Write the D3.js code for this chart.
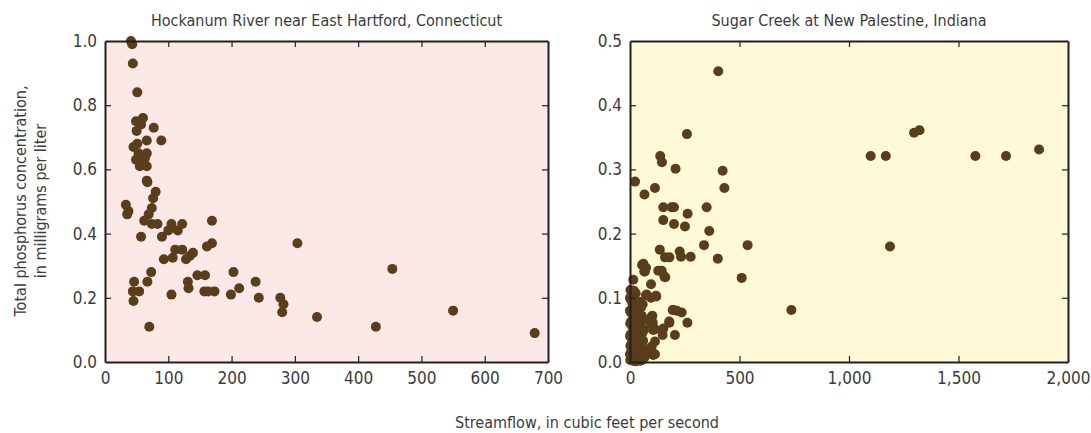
<!DOCTYPE html>
<html>
<head>
<meta charset="utf-8">
<script src="https://d3js.org/d3.v7.min.js"></script>
<style>
  body { margin: 0; background: #fff; }
  text { font-family: "Liberation Sans Narrow", "Arial Narrow", "DejaVu Sans Condensed", sans-serif; fill: #3b3b3b; }
</style>
</head>
<body>
<script>

// Hockanum River: streamflow (cfs) and total phosphorus (mg/L)
hockFlow = [41,43,44,51,60,49,57,77,50,66,89,51,45,66,53,49,63,55,66,61,66,67,80,76,
  33,74,37,35,69,62,169,74,83,105,122,100,115,57,90,169,161,111,122,139,134,128,93,107,
  73,46,67,44,54,45,105,70,131,132,146,158,157,163,173,203,199,212,
  238,243,277,282,280,304,335,428,454,550,679];
hockP = [1.0,0.99,0.93,0.84,0.76,0.75,0.74,0.73,0.72,0.69,0.69,0.68,0.67,0.65,0.65,0.63,0.635,0.61,0.61,0.62,0.565,0.56,0.53,0.51,
  0.49,0.48,0.47,0.46,0.46,0.44,0.44,0.43,0.43,0.43,0.43,0.41,0.41,0.39,0.39,0.37,0.36,0.35,0.35,0.34,0.33,0.32,0.32,0.325,
  0.28,0.25,0.25,0.22,0.22,0.19,0.21,0.11,0.25,0.23,0.27,0.27,0.22,0.22,0.22,0.28,0.21,0.23,
  0.25,0.2,0.2,0.18,0.155,0.37,0.14,0.11,0.29,0.16,0.09];

// Sugar Creek: streamflow (cfs) and total phosphorus (mg/L)
sugarFlow = [403,260,138,146,208,423,1099,1168,1297,1322,1577,1717,1868,
  431,350,362,338,537,401,510,737,1187,
  23,114,66,152,190,201,263,152,201,251,136,227,160,180,233,277,
  55,73,65,129,145,161,15,96,2,26,73,120,96,195,213,236,102,104,180,262,114,152,149,205,114,99,114,106,
  61,68,157,119,76,18,94,99,106,179,198,
  0,3,8,12,20,28,35,42,50,58,
  0,4,10,16,22,30,38,46,54,62,
  1,5,11,17,24,32,40,48,56,64,
  0,3,9,14,21,27,33,44,52,60,
  2,6,12,18,25,31,37,45,53,70,
  0,5,10,15,23,29,36,43,51,80,
  1,7,13,19,26,34,41,47,57,66];
sugarP = [0.453,0.355,0.321,0.311,0.301,0.298,0.321,0.321,0.357,0.361,0.321,0.321,0.331,
  0.271,0.241,0.204,0.182,0.182,0.161,0.131,0.081,0.18,
  0.281,0.271,0.261,0.241,0.241,0.241,0.231,0.221,0.215,0.211,0.175,0.172,0.163,0.163,0.164,0.164,
  0.151,0.147,0.141,0.142,0.142,0.132,0.128,0.121,0.112,0.107,0.104,0.102,0.1,0.081,0.08,0.077,0.072,0.061,0.061,0.061,0.051,0.052,0.042,0.042,0.032,0.024,0.012,0.011,
  0.153,0.141,0.133,0.103,0.105,0.111,0.06,0.07,0.05,0.063,0.081,
  0.1,0.098,0.095,0.09,0.097,0.092,0.088,0.094,0.085,0.09,
  0.08,0.077,0.083,0.074,0.079,0.071,0.076,0.068,0.072,0.066,
  0.06,0.063,0.055,0.058,0.052,0.061,0.049,0.057,0.045,0.05,
  0.04,0.043,0.037,0.045,0.034,0.041,0.038,0.03,0.036,0.033,
  0.025,0.028,0.022,0.03,0.02,0.026,0.018,0.024,0.016,0.02,
  0.012,0.015,0.008,0.013,0.01,0.006,0.014,0.009,0.011,0.017,
  0.003,0.005,0.002,0.004,0.001,0.003,0.006,0.002,0.004,0.007];

W = 1091
H = 433
plotTop = 41
plotBottom = 362

svg = d3.select("body").append("svg")
  .attr("width", W)
  .attr("height", H)

panels = [
  {title: "Hockanum River near East Hartford, Connecticut", x0: 105, x1: 548,
   xmax: 700, xticks: d3.range(0, 701, 100), ymax: 1.0, yticks: [0, 0.2, 0.4, 0.6, 0.8, 1.0],
   bg: "#fde8e8", flow: hockFlow, p: hockP},
  {title: "Sugar Creek at New Palestine, Indiana", x0: 630, x1: 1068,
   xmax: 2000, xticks: d3.range(0, 2001, 500), ymax: 0.5, yticks: [0, 0.1, 0.2, 0.3, 0.4, 0.5],
   bg: "#fef9d7", flow: sugarFlow, p: sugarP}
]

panels.forEach(function(d){
  var x = d3.scaleLinear().domain([0, d.xmax]).range([d.x0, d.x1])
  var y = d3.scaleLinear().domain([0, d.ymax]).range([plotBottom, plotTop])

  var g = svg.append("g")

  g.append("rect")
    .attr("x", d.x0).attr("y", plotTop)
    .attr("width", d.x1 - d.x0).attr("height", plotBottom - plotTop)
    .attr("fill", d.bg)

  // dots
  g.append("g").selectAll("circle")
    .data(d.flow.map((f, i) => [f, d.p[i]]))
    .enter()
    .append("circle")
    .attr("cx", v => x(v[0]))
    .attr("cy", v => y(v[1]))
    .attr("r", 5)
    .attr("fill", "#5a3d1b")

  var xb = g.append("g").attr("transform", "translate(0," + plotBottom + ")")
    .call(d3.axisBottom(x).tickValues(d.xticks).tickSize(-6).tickSizeOuter(0).tickPadding(10)
      .tickFormat(d3.format(",")))
  var xt = g.append("g").attr("transform", "translate(0," + plotTop + ")")
    .call(d3.axisTop(x).tickValues(d.xticks).tickSize(-6).tickSizeOuter(0).tickFormat(""))
  var yl = g.append("g").attr("transform", "translate(" + d.x0 + ",0)")
    .call(d3.axisLeft(y).tickValues(d.yticks).tickSize(-6).tickSizeOuter(0).tickPadding(8)
      .tickFormat(d3.format(".1f")))
  var yr = g.append("g").attr("transform", "translate(" + d.x1 + ",0)")
    .call(d3.axisRight(y).tickValues(d.yticks).tickSize(-6).tickSizeOuter(0).tickFormat(""))

  ;[xb, xt, yl, yr].forEach(function(a){
    a.select(".domain").attr("stroke", "#231f20").attr("stroke-width", 2)
    a.selectAll(".tick line").attr("stroke", "#231f20").attr("stroke-width", 1.2)
    a.selectAll("text").attr("font-size", 17).attr("font-family", null).attr("fill", "#3b3b3b")
    // drop end ticks that would sit on the frame
    a.selectAll(".tick line").filter((t, i, n) => i == 0 || i == n.length - 1).remove()
  })

  g.append("text")
    .attr("x", (d.x0 + d.x1) / 2)
    .attr("y", 26)
    .attr("text-anchor", "middle")
    .attr("font-size", 16)
    .text(d.title)
})

svg.append("text")
  .attr("x", 587)
  .attr("y", 428)
  .attr("text-anchor", "middle")
  .attr("font-size", 16)
  .text("Streamflow, in cubic feet per second")

ylab = svg.append("text")
  .attr("transform", "translate(26,201) rotate(-90)")
  .attr("text-anchor", "middle")
  .attr("font-size", 16)
ylab.append("tspan").attr("x", 0).attr("dy", 0).text("Total phosphorus concentration,")
ylab.append("tspan").attr("x", 0).attr("dy", 20).text("in milligrams per liter")

</script>
</body>
</html>
